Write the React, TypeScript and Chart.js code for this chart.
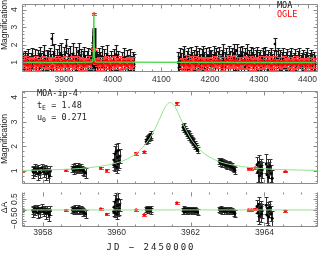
import React, { useEffect, useRef } from 'react';
import { Chart, registerables } from 'chart.js';
Chart.register(...registerables);

// ---------------- DATA ----------------
// Season overview: MOA
const moaSeasonT = [
  3816, 3818, 3821, 3824, 3826, 3829, 3832, 3835, 3837, 3840,
  3843, 3846, 3848, 3851, 3854, 3857, 3860, 3862, 3865, 3868,
  3871, 3873, 3875, 3878, 3880, 3883, 3886, 3889, 3891, 3894,
  3897, 3900, 3902, 3905, 3908, 3911, 3913, 3916, 3919, 3922,
  3925, 3928, 3930, 3933, 3936, 3939, 3942, 3944, 3947, 3950,
  3953, 3956, 3967, 3969, 3972, 3975, 3978, 3980, 3983, 3986,
  3989, 3992, 3996, 4000, 4003, 4006, 4009, 4012, 4020, 4023,
  4026, 4029, 4032, 4035, 4038, 4041, 4044, 4134, 4136, 4138,
  4141, 4144, 4147, 4149, 4152, 4155, 4158, 4160, 4163, 4166,
  4169, 4172, 4174, 4177, 4180, 4183, 4185, 4188, 4191, 4194,
  4197, 4199, 4202, 4205, 4208, 4211, 4213, 4216, 4219, 4222,
  4225, 4227, 4230, 4233, 4236, 4238, 4241, 4244, 4247, 4250,
  4252, 4255, 4258, 4261, 4263, 4266, 4269, 4272, 4275, 4277,
  4280, 4283, 4286, 4289, 4291, 4294, 4297, 4300, 4302, 4305,
  4308, 4311, 4313, 4316, 4319, 4322, 4325, 4328, 4331, 4333,
  4336, 4339, 4342, 4344, 4347, 4350, 4353, 4355, 4358, 4361,
  4364, 4366, 4369, 4372, 4375, 4377, 4380, 4383, 4386, 4388,
  4391, 4394, 4397, 4399, 4402, 4405, 4408, 4410, 4413, 4416,
];
const moaSeasonA = [
  1.00, 0.80, 1.10, 0.90, 1.20, 0.75, 1.00, 1.25, 0.90, 1.10,
  0.80, 1.15, 1.00, 1.30, 0.90, 1.10, 1.40, 0.80, 1.15, 1.00,
  1.25, 0.85, 2.35, 1.05, 1.50, 0.80, 1.15, 1.35, 1.00, 1.45,
  0.90, 1.25, 1.05, 1.95, 1.15, 0.90, 1.35, 1.00, 1.50, 0.80,
  1.25, 1.05, 1.65, 0.90, 1.15, 1.00, 1.35, 0.80, 1.10, 1.25,
  0.90, 1.15, 1.05, 0.90, 1.25, 1.00, 1.35, 0.80, 1.15, 1.00,
  1.40, 0.90, 1.10, 0.80, 1.15, 1.45, 0.90, 1.10, 1.00, 1.25,
  0.80, 1.10, 0.90, 1.15, 0.80, 1.05, 0.90, 1.00, 0.70, 1.25,
  0.90, 1.15, 1.40, 0.80, 1.10, 1.25, 0.90, 1.35, 1.00, 1.15,
  0.80, 1.40, 1.05, 1.25, 0.90, 1.15, 1.40, 1.00, 1.25, 0.90,
  1.35, 1.05, 1.15, 0.90, 1.40, 1.00, 1.25, 1.05, 1.35, 0.90,
  1.15, 1.50, 1.00, 1.25, 0.90, 1.40, 1.05, 1.25, 1.00, 1.50,
  1.15, 1.65, 0.90, 1.35, 1.05, 1.40, 1.00, 1.25, 1.50, 0.90,
  1.15, 1.35, 1.00, 1.25, 0.90, 1.15, 1.35, 1.00, 1.15, 0.80,
  1.25, 1.05, 1.35, 0.90, 1.15, 1.00, 1.25, 0.90, 1.15, 2.05,
  1.05, 1.25, 0.90, 1.15, 1.00, 1.25, 0.80, 1.05, 1.15, 0.90,
  1.05, 1.25, 0.80, 1.00, 1.15, 0.90, 1.05, 1.25, 0.80, 1.00,
  1.15, 0.90, 1.05, 1.25, 0.80, 1.00, 1.15, 0.90, 1.05, 0.90,
];
const moaSeasonErr = [
  0.55, 0.60, 0.55, 0.65, 0.55, 0.60, 0.55, 0.60, 0.55, 0.65,
  0.60, 0.55, 0.55, 0.60, 0.65, 0.55, 0.60, 0.60, 0.55, 0.65,
  0.60, 0.65, 0.35, 0.60, 0.55, 0.65, 0.60, 0.65, 0.60, 0.65,
  0.60, 0.65, 0.60, 0.40, 0.65, 0.60, 0.60, 0.55, 0.60, 0.65,
  0.65, 0.55, 0.45, 0.60, 0.60, 0.65, 0.55, 0.60, 0.55, 0.60,
  0.55, 0.60, 0.55, 0.60, 0.55, 0.60, 0.60, 0.55, 0.60, 0.55,
  0.60, 0.55, 0.55, 0.60, 0.60, 0.55, 0.60, 0.55, 0.60, 0.55,
  0.55, 0.60, 0.55, 0.60, 0.55, 0.55, 0.60, 0.60, 0.65, 0.60,
  0.65, 0.60, 0.55, 0.60, 0.55, 0.60, 0.60, 0.55, 0.60, 0.55,
  0.60, 0.55, 0.60, 0.55, 0.60, 0.60, 0.55, 0.60, 0.55, 0.60,
  0.55, 0.60, 0.55, 0.60, 0.55, 0.60, 0.55, 0.60, 0.55, 0.60,
  0.55, 0.55, 0.60, 0.55, 0.60, 0.55, 0.60, 0.55, 0.60, 0.55,
  0.60, 0.40, 0.60, 0.55, 0.60, 0.55, 0.60, 0.55, 0.55, 0.60,
  0.55, 0.55, 0.60, 0.55, 0.60, 0.55, 0.55, 0.60, 0.55, 0.60,
  0.55, 0.60, 0.55, 0.60, 0.55, 0.60, 0.55, 0.60, 0.55, 0.35,
  0.60, 0.55, 0.60, 0.55, 0.60, 0.55, 0.60, 0.55, 0.60, 0.55,
  0.60, 0.55, 0.60, 0.55, 0.60, 0.55, 0.60, 0.55, 0.60, 0.55,
  0.55, 0.60, 0.55, 0.55, 0.60, 0.55, 0.55, 0.60, 0.55, 0.55,
];

// Season overview: OGLE
const ogleSeasonT = [
  3816, 3818, 3821, 3823, 3826, 3828, 3831, 3833, 3836, 3838,
  3841, 3843, 3846, 3848, 3851, 3853, 3856, 3858, 3861, 3863,
  3866, 3868, 3871, 3873, 3876, 3878, 3881, 3883, 3886, 3888,
  3891, 3893, 3896, 3898, 3901, 3903, 3906, 3908, 3911, 3913,
  3916, 3918, 3921, 3923, 3926, 3928, 3931, 3933, 3936, 3938,
  3941, 3943, 3946, 3948, 3951, 3953, 3955, 3967, 3970, 3972,
  3975, 3977, 3980, 3982, 3985, 3987, 3990, 3992, 3995, 3997,
  4000, 4002, 4005, 4007, 4010, 4012, 4015, 4017, 4020, 4022,
  4025, 4027, 4030, 4032, 4035, 4037, 4040, 4042,
  4141, 4143, 4146, 4148, 4151, 4153, 4156, 4158, 4161, 4163,
  4166, 4168, 4171, 4173, 4176, 4178, 4181, 4183, 4186, 4188,
  4191, 4193, 4196, 4198, 4201, 4203, 4206, 4208, 4211, 4213,
  4216, 4218, 4221, 4223, 4226, 4228, 4231, 4233, 4236, 4238,
  4241, 4243, 4246, 4248, 4251, 4253, 4256, 4258, 4261, 4263,
  4266, 4268, 4271, 4273, 4276, 4278, 4281, 4283, 4286, 4288,
  4291, 4293, 4296, 4298, 4301, 4303, 4306, 4308, 4311, 4313,
  4316, 4318, 4321, 4323, 4326, 4328, 4331, 4333, 4336, 4338,
  4341, 4343, 4346, 4348, 4351, 4353, 4356, 4358, 4361, 4363,
  4366, 4368, 4371, 4373, 4376, 4378, 4381, 4383, 4386, 4388,
  4391, 4393, 4396, 4398, 4401, 4403, 4406, 4408, 4411, 4413,
];
const ogleSeasonA = [
  0.95, 1.05, 0.90, 1.10, 0.85, 1.00, 0.92, 1.08, 0.80, 1.02,
  0.95, 1.12, 0.88, 1.00, 1.05, 0.82, 0.97, 1.10, 0.90, 1.03,
  0.86, 1.07, 0.94, 1.00, 0.78, 1.10, 0.96, 1.04, 0.88, 1.12,
  0.92, 1.00, 0.84, 1.06, 0.98, 1.10, 0.90, 0.82, 1.05, 0.95,
  1.08, 0.87, 1.00, 0.93, 1.10, 0.80, 1.02, 0.96, 1.07, 0.89,
  1.00, 0.85, 1.04, 0.92, 1.10, 0.97, 0.90, 1.03, 0.88, 1.08,
  0.94, 1.00, 0.83, 1.06, 0.97, 1.11, 0.89, 1.02, 0.79, 1.05,
  0.93, 1.09, 0.86, 1.00, 1.04, 0.91, 1.12, 0.84, 0.98, 1.06,
  0.90, 1.03, 0.82, 1.08, 0.95, 1.00, 0.87, 1.05,
  0.92, 1.06, 0.85, 1.00, 1.10, 0.90, 1.03, 0.82, 1.07, 0.96,
  1.00, 0.88, 1.12, 0.93, 1.05, 0.80, 0.98, 1.09, 0.91, 1.02,
  0.86, 1.06, 0.95, 1.10, 0.89, 1.00, 0.84, 1.08, 0.97, 1.03,
  0.90, 1.12, 0.94, 1.05, 0.83, 1.00, 1.08, 0.92, 1.14, 0.96,
  1.04, 0.88, 1.10, 0.97, 1.15, 0.90, 1.06, 0.85, 1.02, 0.95,
  1.09, 0.92, 1.12, 1.00, 0.87, 1.05, 0.95, 1.10, 0.90, 1.03,
  0.84, 1.07, 0.96, 1.00, 0.89, 1.06, 0.93, 1.11, 0.86, 1.02,
  0.97, 1.08, 0.90, 1.03, 0.82, 1.05, 0.94, 1.10, 0.88, 1.00,
  1.06, 0.91, 1.02, 0.85, 1.08, 0.95, 1.00, 0.88, 1.04, 0.93,
  1.07, 0.86, 1.00, 0.94, 1.10, 0.89, 1.03, 0.96, 0.84, 1.05,
  0.92, 1.00, 0.87, 1.06, 0.95, 1.02, 0.83, 1.04, 0.91, 0.98,
];
const ogleSeasonErr = [
  0.24, 0.27, 0.22, 0.29, 0.25, 0.23, 0.28, 0.24, 0.30, 0.22,
  0.27, 0.24, 0.29, 0.22, 0.25, 0.28, 0.24, 0.27, 0.23, 0.29,
  0.25, 0.22, 0.28, 0.24, 0.30, 0.23, 0.27, 0.24, 0.29, 0.25,
  0.22, 0.28, 0.24, 0.27, 0.23, 0.29, 0.25, 0.24, 0.28, 0.22,
  0.27, 0.24, 0.29, 0.22, 0.25, 0.28, 0.24, 0.27, 0.23, 0.29,
  0.24, 0.27, 0.22, 0.29, 0.25, 0.23, 0.28, 0.24, 0.30, 0.22,
  0.25, 0.22, 0.28, 0.24, 0.30, 0.23, 0.27, 0.24, 0.29, 0.25,
  0.22, 0.28, 0.24, 0.27, 0.23, 0.29, 0.25, 0.24, 0.28, 0.22,
  0.27, 0.24, 0.29, 0.22, 0.25, 0.28, 0.24, 0.27,
  0.25, 0.22, 0.28, 0.24, 0.30, 0.23, 0.27, 0.24, 0.29, 0.25,
  0.24, 0.27, 0.22, 0.29, 0.25, 0.23, 0.28, 0.24, 0.30, 0.22,
  0.27, 0.24, 0.29, 0.22, 0.25, 0.28, 0.24, 0.27, 0.23, 0.29,
  0.22, 0.28, 0.24, 0.27, 0.23, 0.29, 0.25, 0.24, 0.28, 0.22,
  0.25, 0.22, 0.28, 0.24, 0.30, 0.23, 0.27, 0.24, 0.29, 0.25,
  0.24, 0.27, 0.22, 0.29, 0.25, 0.23, 0.28, 0.24, 0.30, 0.22,
  0.27, 0.24, 0.29, 0.22, 0.25, 0.28, 0.24, 0.27, 0.23, 0.29,
  0.22, 0.28, 0.24, 0.27, 0.23, 0.29, 0.25, 0.24, 0.28, 0.22,
  0.25, 0.22, 0.28, 0.24, 0.30, 0.23, 0.27, 0.24, 0.29, 0.25,
  0.24, 0.27, 0.22, 0.29, 0.25, 0.23, 0.28, 0.24, 0.30, 0.22,
  0.27, 0.24, 0.29, 0.22, 0.25, 0.28, 0.24, 0.27, 0.23, 0.29,
];

// Event: MOA (JD - 2450000), magnification, error, residual
const moaT = [
  3957.73, 3957.75, 3957.78, 3957.80, 3957.83, 3957.86, 3957.88, 3957.91, 3957.94, 3957.97, 3958.00, 3958.03, 3958.06, 3958.09, 3958.12, 3958.15, 3958.18, 3958.21,
  3958.80, 3958.82, 3958.85, 3958.87, 3958.90, 3958.92, 3958.95, 3958.97, 3959.00, 3959.02, 3959.05, 3959.07, 3959.10, 3959.13, 3959.16,
  3959.92, 3959.93, 3959.95, 3959.96, 3959.98, 3959.99, 3960.01, 3960.02, 3960.04, 3960.05, 3960.07, 3960.08,
  3960.80, 3960.82, 3960.84, 3960.86, 3960.88, 3960.90, 3960.92, 3960.93,
  3961.80, 3961.82, 3961.83, 3961.85, 3961.87, 3961.88, 3961.90, 3961.92, 3961.93, 3961.95, 3961.97, 3961.98, 3962.00, 3962.02, 3962.03, 3962.05, 3962.07, 3962.08, 3962.10, 3962.12, 3962.13, 3962.15, 3962.17, 3962.19,
  3962.78, 3962.80, 3962.83, 3962.85, 3962.88, 3962.90, 3962.93, 3962.95, 3962.98, 3963.00, 3963.03, 3963.05, 3963.08, 3963.10, 3963.13, 3963.15, 3963.18, 3963.20,
  3963.80, 3963.82, 3963.84, 3963.86, 3963.88, 3963.90, 3963.92, 3963.94, 3964.05, 3964.07, 3964.09, 3964.11, 3964.13, 3964.15, 3964.18, 3964.21,
];
const moaA = [
  1.02, 0.95, 1.10, 0.98, 1.05, 0.90, 1.08, 1.00, 0.93, 1.12, 1.03, 0.97, 1.06, 0.88, 1.04, 0.92, 0.80, 1.00,
  1.08, 1.12, 1.03, 1.15, 1.10, 1.06, 1.18, 1.09, 1.13, 1.04, 1.11, 1.07, 1.00, 0.98, 0.92,
  1.25, 1.45, 1.20, 1.70, 1.35, 1.80, 1.15, 1.55, 1.30, 1.85, 1.40, 1.60,
  2.20, 2.28, 2.25, 2.35, 2.38, 2.42, 2.40, 2.50,
  2.78, 2.85, 2.70, 2.72, 2.62, 2.66, 2.55, 2.58, 2.45, 2.50, 2.40, 2.44, 2.32, 2.35, 2.25, 2.28, 2.18, 2.22, 2.10, 2.12, 2.02, 2.05, 1.92, 1.85,
  1.40, 1.35, 1.42, 1.30, 1.36, 1.28, 1.33, 1.25, 1.30, 1.22, 1.27, 1.20, 1.24, 1.16, 1.20, 1.12, 1.08, 1.02,
  1.25, 0.95, 1.35, 0.80, 1.10, 1.20, 0.90, 1.05, 1.30, 0.85, 1.15, 0.75, 1.05, 1.20, 0.90, 0.70,
];
const moaErr = [
  0.18, 0.22, 0.18, 0.20, 0.17, 0.25, 0.18, 0.17, 0.22, 0.18, 0.17, 0.20, 0.18, 0.26, 0.18, 0.22, 0.28, 0.20,
  0.14, 0.15, 0.14, 0.16, 0.14, 0.15, 0.16, 0.14, 0.15, 0.14, 0.16, 0.15, 0.17, 0.18, 0.20,
  0.22, 0.28, 0.22, 0.32, 0.26, 0.30, 0.24, 0.30, 0.25, 0.30, 0.26, 0.28,
  0.12, 0.13, 0.12, 0.13, 0.14, 0.13, 0.14, 0.14,
  0.12, 0.11, 0.12, 0.11, 0.12, 0.11, 0.12, 0.11, 0.12, 0.11, 0.12, 0.11, 0.12, 0.11, 0.12, 0.11, 0.12, 0.11, 0.12, 0.11, 0.12, 0.11, 0.12, 0.13,
  0.12, 0.13, 0.12, 0.13, 0.12, 0.13, 0.12, 0.13, 0.12, 0.13, 0.12, 0.13, 0.12, 0.13, 0.12, 0.13, 0.14, 0.15,
  0.32, 0.38, 0.32, 0.38, 0.32, 0.30, 0.35, 0.32, 0.40, 0.38, 0.32, 0.38, 0.32, 0.30, 0.35, 0.35,
];
const moaRes = [
  -0.02, -0.09, 0.07, -0.05, 0.02, -0.13, 0.05, -0.03, -0.10, 0.08, -0.01, -0.07, 0.02, -0.15, 0.00, -0.12, -0.24, -0.04,
  0.00, 0.04, -0.05, 0.07, 0.01, -0.03, 0.09, 0.00, 0.03, -0.06, 0.01, -0.03, -0.10, -0.12, -0.19,
  -0.07, 0.13, -0.12, 0.37, 0.02, 0.47, -0.19, 0.21, -0.05, 0.50, 0.04, 0.23,
  0.02, 0.06, -0.02, 0.05, 0.03, 0.04, -0.03, 0.05,
  -0.05, 0.05, -0.08, 0.02, -0.06, 0.03, -0.04, 0.04, -0.05, 0.04, -0.04, 0.03, -0.02, 0.03, -0.05, 0.02, -0.04, 0.03, -0.03, 0.02, -0.06, 0.00, -0.08, -0.10,
  0.02, -0.02, 0.06, -0.05, 0.02, -0.05, 0.01, -0.06, 0.00, -0.06, 0.00, -0.06, 0.00, -0.07, -0.01, -0.08, -0.12, -0.17,
  0.16, -0.14, 0.26, -0.29, 0.01, 0.11, -0.19, -0.04, 0.22, -0.23, 0.07, -0.33, -0.03, 0.12, -0.18, -0.38,
];

// Event: OGLE
const ogleT = [3957.45, 3958.63, 3959.57, 3959.73, 3960.53, 3960.75, 3961.63, 3963.57, 3963.65, 3963.75, 3964.57];
const ogleA = [1.00, 1.03, 1.12, 1.02, 1.72, 1.78, 3.76, 1.10, 1.10, 1.13, 0.98];
const ogleErr = [0.05, 0.05, 0.05, 0.05, 0.05, 0.05, 0.06, 0.05, 0.05, 0.05, 0.04];
const ogleRes = [0.00, -0.02, 0.05, -0.20, 0.00, -0.22, 0.33, 0.00, 0.00, 0.03, -0.05];

// Model (t_E = 1.48, u_0 = 0.271)
const modelT = [3957.40, 3958.00, 3958.50, 3959.00, 3959.50, 3960.00, 3960.30, 3960.60, 3960.80, 3960.90, 3961.00, 3961.10, 3961.20, 3961.30, 3961.38, 3961.45, 3961.52, 3961.60, 3961.70, 3961.80, 3961.90, 3962.00, 3962.10, 3962.30, 3962.60, 3962.90, 3963.40, 3963.90, 3964.40, 3964.90, 3965.50];
const modelA = [1.02, 1.04, 1.06, 1.10, 1.18, 1.33, 1.50, 1.80, 2.13, 2.34, 2.61, 2.91, 3.25, 3.56, 3.74, 3.79, 3.74, 3.56, 3.25, 2.91, 2.61, 2.34, 2.13, 1.80, 1.50, 1.33, 1.18, 1.10, 1.06, 1.04, 1.02];
const baselineT = [3814, 4422];
const baselineA = [1.0, 1.0];
const zeroT = [3957.4, 3965.5];
const zeroA = [0, 0];

// Axis tick steps
const seasonTicks = { xMajor: 100, xMinor: 20 };
const eventTicks = { xMajor: 2, xMinor: 0.5 };

// ---------------- STYLE ----------------
const FRAME = '#8c8c8c';
const TICK_FONT = '8.5px "Liberation Sans"';

function pts(xs: number[], ys: number[]) {
  return xs.map((x, i) => ({ x, y: ys[i] }));
}

function stepTicks(s: any, step: number) {
  const first = Math.ceil(s.min / step - 1e-6);
  const last = Math.floor(s.max / step + 1e-6);
  const t: { value: number }[] = [];
  for (let k = first; k <= last; k++) t.push({ value: Math.round(k * step * 1e6) / 1e6 });
  s.ticks = t;
}

const errorBars = {
  id: 'errorBars',
  beforeDatasetDraw(chart: any, args: any) {
    const ds = chart.data.datasets[args.index];
    if (!ds.errors) return;
    const { ctx, chartArea: a } = chart;
    const xs = chart.scales.x;
    const ys = chart.scales.y;
    const cap = ds.capWidth ?? 2;
    ctx.save();
    ctx.beginPath();
    ctx.rect(a.left, a.top, a.right - a.left, a.bottom - a.top);
    ctx.clip();
    ctx.strokeStyle = ds.errorColor;
    ctx.lineWidth = ds.errorWidth ?? 1;
    ctx.beginPath();
    ds.data.forEach((p: any, i: number) => {
      const e = ds.errors[i];
      const x = Math.round(xs.getPixelForValue(p.x)) + 0.5;
      const y1 = Math.round(ys.getPixelForValue(p.y - e)) + 0.5;
      const y2 = Math.round(ys.getPixelForValue(p.y + e)) + 0.5;
      ctx.moveTo(x, y1);
      ctx.lineTo(x, y2);
      ctx.moveTo(x - cap, y1);
      ctx.lineTo(x + cap, y1);
      ctx.moveTo(x - cap, y2);
      ctx.lineTo(x + cap, y2);
    });
    ctx.stroke();
    ctx.restore();
  },
};

const frame = {
  id: 'frame',
  afterDatasetsDraw(chart: any, _a: any, o: any) {
    const { ctx, chartArea: a } = chart;
    const xs = chart.scales.x;
    const ys = chart.scales.y;
    const L = a.left + 0.5, R = a.right - 0.5, T = a.top + 0.5, B = a.bottom - 0.5;
    ctx.save();
    ctx.strokeStyle = FRAME;
    ctx.lineWidth = 1;
    ctx.beginPath();
    if (o.top !== false) {
      ctx.moveTo(R, T);
      ctx.lineTo(L, T);
    } else {
      ctx.moveTo(L, T);
    }
    ctx.lineTo(L, B);
    ctx.lineTo(R, B);
    ctx.lineTo(R, T);
    const marks = (scale: any, step: number, len: number, horiz: boolean) => {
      const first = Math.ceil(scale.min / step - 1e-6);
      const last = Math.floor(scale.max / step + 1e-6);
      for (let k = first; k <= last; k++) {
        const p = Math.round(scale.getPixelForValue(k * step)) + 0.5;
        if (horiz) {
          ctx.moveTo(p, B); ctx.lineTo(p, B - len);
          ctx.moveTo(p, T); ctx.lineTo(p, T + len);
        } else {
          ctx.moveTo(L, p); ctx.lineTo(L + len, p);
          ctx.moveTo(R, p); ctx.lineTo(R - len, p);
        }
      }
    };
    marks(xs, o.xMinor, 2, true);
    marks(xs, o.xMajor, 4, true);
    marks(ys, o.yMinor, 2, false);
    marks(ys, o.yMajor, 4, false);
    ctx.stroke();
    ctx.restore();
  },
};

function fmt(v: number) {
  const r = Math.round(v * 100) / 100;
  return r < 0 ? '\u2212' + String(Math.abs(r)) : String(r);
}

const annot = {
  id: 'annot',
  afterDraw(chart: any, _a: any, o: any) {
    const { ctx, chartArea: a } = chart;
    const ys = chart.scales.y;
    const xs = chart.scales.x;
    ctx.save();
    ctx.fillStyle = '#333';
    ctx.font = TICK_FONT;
    ctx.textAlign = 'center';
    ctx.textBaseline = 'middle';
    for (const t of ys.ticks) {
      const p = ys.getPixelForValue(t.value);
      ctx.save();
      ctx.translate(a.left - 7, p);
      ctx.rotate(-Math.PI / 2);
      ctx.fillText(fmt(t.value), 0, 0);
      ctx.restore();
    }
    if (o.xLabelOffset != null) {
      for (const t of xs.ticks) {
        const p = xs.getPixelForValue(t.value);
        ctx.fillText(String(t.value), p, a.bottom + o.xLabelOffset);
      }
    }
    for (const t of o.texts || []) {
      ctx.save();
      ctx.translate(t.x, t.y);
      if (t.rot) ctx.rotate(-Math.PI / 2);
      ctx.fillStyle = t.color || '#222';
      ctx.textBaseline = 'middle';
      (ctx as any).letterSpacing = t.spacing || '0px';
      let total = 0;
      for (const part of t.parts) {
        ctx.font = part.font || t.font;
        total += ctx.measureText(part.s).width;
      }
      let x = t.align === 'center' ? -total / 2 : 0;
      ctx.textAlign = 'left';
      for (const part of t.parts) {
        ctx.font = part.font || t.font;
        ctx.fillText(part.s, x, part.dy || 0);
        x += ctx.measureText(part.s).width;
      }
      ctx.restore();
    }
    ctx.restore();
  },
};

const LABEL_FONT = '8.5px "DejaVu Sans Mono"';
const SUB_FONT = '6.5px "DejaVu Sans Mono"';
const TITLE_FONT = '8.5px "Liberation Sans"';

function baseOptions(o: any) {
  return {
    type: 'scatter',
    data: { datasets: o.datasets },
    plugins: [errorBars, frame, annot],
    options: {
      animation: false,
      responsive: false,
      devicePixelRatio: 1,
      events: [],
      layout: { padding: o.padding },
      plugins: {
        legend: { display: false },
        tooltip: { enabled: false },
        frame: o.frame,
        annot: { texts: o.texts, xLabelOffset: o.xLabelOffset },
      },
      scales: {
        x: {
          type: 'linear',
          min: o.xMin,
          max: o.xMax,
          grid: { display: false, drawTicks: false },
          border: { display: false },
          afterBuildTicks: (s: any) => stepTicks(s, o.frame.xMajor),
          ticks: { display: false, autoSkip: false },
          afterFit: (s: any) => { s.height = o.xHeight; },
        },
        y: {
          type: 'linear',
          min: o.yMin,
          max: o.yMax,
          grid: { display: false, drawTicks: false },
          border: { display: false },
          afterBuildTicks: (s: any) => stepTicks(s, o.frame.yMajor),
          ticks: { display: false, autoSkip: false },
          afterFit: (s: any) => { s.width = 22; },
        },
      },
    },
  };
}

function moaSet(xs: number[], ys: number[], errs: number[], barColor: string, barWidth: number, r: number) {
  return {
    data: pts(xs, ys),
    errors: errs,
    errorColor: barColor,
    errorWidth: barWidth,
    capWidth: 2,
    pointRadius: r,
    pointBackgroundColor: '#000',
    pointBorderWidth: 0,
    showLine: false,
  };
}
function ogleSet(xs: number[], ys: number[], errs: number[], r: number) {
  return {
    data: pts(xs, ys),
    errors: errs,
    errorColor: '#ff4040',
    errorWidth: 1,
    capWidth: 2.5,
    pointRadius: r,
    pointBackgroundColor: '#ff0000',
    pointBorderWidth: 0,
    showLine: false,
  };
}
function lineSet(xs: number[], ys: number[], color: string, width: number) {
  return {
    data: pts(xs, ys),
    showLine: true,
    borderColor: color,
    borderWidth: width,
    pointRadius: 0,
    cubicInterpolationMode: 'monotone',
  };
}

const topConfig = () =>
  baseOptions({
    datasets: [
      lineSet([baselineT[0], ...modelT, baselineT[1]], [baselineA[0], ...modelA, baselineA[1]], '#4fd84f', 1.4),
      ogleSet([...ogleSeasonT, ...ogleT], [...ogleSeasonA, ...ogleA], [...ogleSeasonErr, ...ogleErr], 1.6),
      moaSet([...moaSeasonT, ...moaT], [...moaSeasonA, ...moaA], [...moaSeasonErr, ...moaErr], '#1a1a1a', 1.2, 1.3),
    ],
    padding: { top: 0, right: 1, left: 0, bottom: 0 },
    xMin: 3814, xMax: 4421.5, yMin: 0.46, yMax: 4.32,
    xHeight: 15, xLabelOffset: 8,
    frame: { ...seasonTicks, yMajor: 1, yMinor: 0.2 },
    texts: [
      { parts: [{ s: 'Magnification' }], x: 5, y: 25, rot: true, align: 'center', font: TITLE_FONT },
      { parts: [{ s: 'MOA' }], x: 277, y: 5.5, font: LABEL_FONT, color: '#111' },
      { parts: [{ s: 'OGLE' }], x: 277, y: 14.5, font: LABEL_FONT, color: '#ff0000' },
    ],
  });

const midConfig = () =>
  baseOptions({
    datasets: [
      lineSet(modelT, modelA, '#8de88d', 1),
      ogleSet(ogleT, ogleA, ogleErr, 1.6),
      moaSet(moaT, moaA, moaErr, '#333333', 1, 1.5),
    ],
    padding: { top: 0, right: 1, left: 0, bottom: 0 },
    xMin: 3957.44, xMax: 3965.45, yMin: 0.47, yMax: 4.26,
    xHeight: 0,
    frame: { ...eventTicks, yMajor: 1, yMinor: 0.2 },
    texts: [
      { parts: [{ s: 'Magnification' }], x: 5, y: 52, rot: true, align: 'center', font: TITLE_FONT },
      { parts: [{ s: 'MOA-ip-4' }], x: 37, y: 6.5, font: LABEL_FONT },
      { parts: [{ s: 't' }, { s: 'E', font: SUB_FONT, dy: 2.5 }, { s: ' = 1.48' }], x: 37, y: 18.5, font: LABEL_FONT },
      { parts: [{ s: 'u' }, { s: '0', font: SUB_FONT, dy: 2.5 }, { s: ' = 0.271' }], x: 37, y: 30.5, font: LABEL_FONT },
    ],
  });

const botConfig = () =>
  baseOptions({
    datasets: [
      lineSet(zeroT, zeroA, '#8de88d', 1),
      ogleSet(ogleT, ogleRes, ogleErr, 1.6),
      moaSet(moaT, moaRes, moaErr, '#333333', 1, 1.5),
    ],
    padding: { top: 0, right: 1, left: 0, bottom: 0 },
    xMin: 3957.44, xMax: 3965.45, yMin: -0.79, yMax: 0.83,
    xHeight: 26, xLabelOffset: 5.5,
    frame: { ...eventTicks, yMajor: 0.5, yMinor: 0.1, top: false },
    texts: [
      { parts: [{ s: '\u0394A' }], x: 5, y: 19.5, rot: true, align: 'center', font: TITLE_FONT },
      { parts: [{ s: 'JD \u2212 2450000' }], x: 151, y: 59.5, align: 'center', font: '9px "DejaVu Sans Mono"', spacing: '2px' },
    ],
  });

function Panel({ top, height, make }: { top: number; height: number; make: () => any }) {
  const ref = useRef<HTMLCanvasElement>(null);
  useEffect(() => {
    const chart = new Chart(ref.current as HTMLCanvasElement, make());
    return () => chart.destroy();
  }, []);
  return (
    <canvas
      ref={ref}
      width={322}
      height={height}
      style={{ position: 'absolute', left: 0, top, width: 322, height, display: 'block' }}
    />
  );
}

export default function App() {
  return (
    <div style={{ position: 'fixed', left: 0, top: 0, width: 322, height: 253, background: '#fff', overflow: 'hidden' }}>
      <Panel top={0} height={87} make={topConfig} />
      <Panel top={87} height={101} make={midConfig} />
      <Panel top={188} height={65} make={botConfig} />
    </div>
  );
}
